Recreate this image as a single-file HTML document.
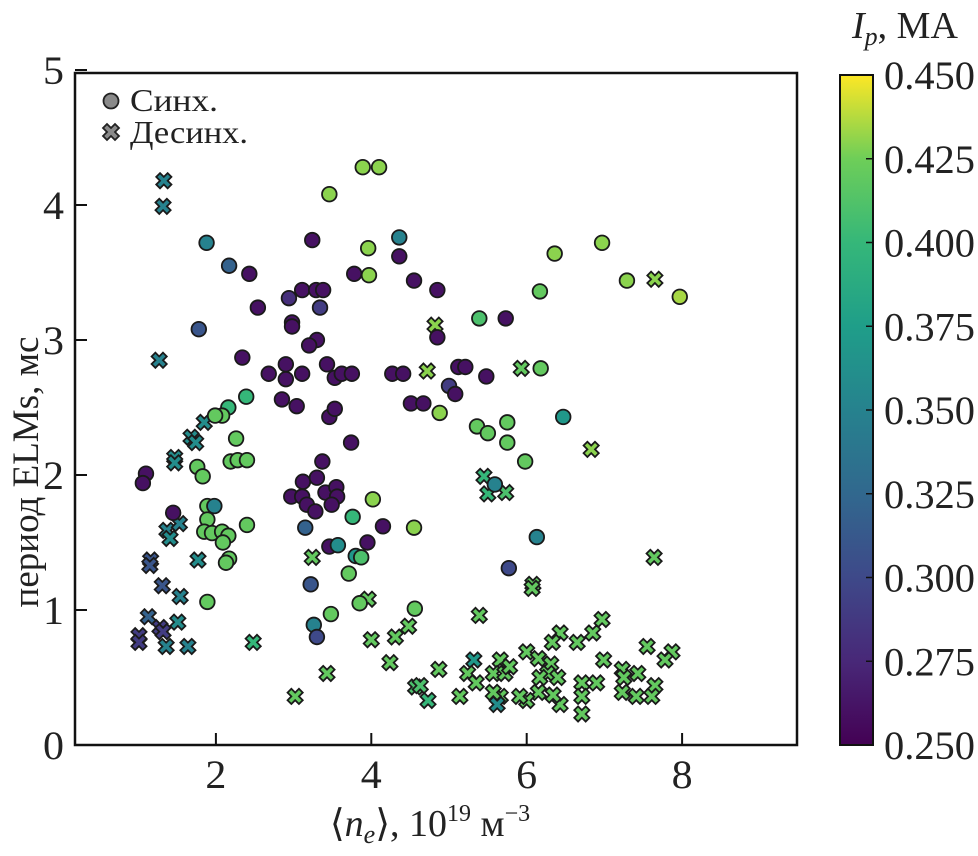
<!DOCTYPE html>
<html><head><meta charset="utf-8"><style>
body{margin:0;background:#fff;}
svg{display:block;font-family:"Liberation Serif",serif;}
</style></head><body>
<svg id="chart" width="978" height="856" viewBox="0 0 978 856" xmlns="http://www.w3.org/2000/svg">
<defs><linearGradient id="vir" x1="0" y1="1" x2="0" y2="0">
<stop offset="0" stop-color="#440154"/><stop offset="0.125" stop-color="#482878"/><stop offset="0.25" stop-color="#3e4989"/><stop offset="0.375" stop-color="#31688e"/><stop offset="0.5" stop-color="#26828e"/><stop offset="0.625" stop-color="#1f9e89"/><stop offset="0.75" stop-color="#35b779"/><stop offset="0.875" stop-color="#6ece58"/><stop offset="1" stop-color="#fde725"/></linearGradient></defs>
<g id="marks"></g>
<rect x="75" y="73" width="722" height="672" fill="none" stroke="#111" stroke-width="2.5"/>
<g id="axes"></g>
<g>
<circle cx="111" cy="101" r="7.5" fill="#8a8a8a" stroke="#222" stroke-width="1.8"/>
<text x="130" y="111" font-size="32" textLength="88" lengthAdjust="spacingAndGlyphs" fill="#222">Синх.</text>
<path d="M103,128 L107,124 L111,128 L115,124 L119,128 L115,132 L119,136 L115,140 L111,136 L107,140 L103,136 L107,132Z" fill="#8a8a8a" stroke="#222" stroke-width="1.8"/>
<text x="130" y="143" font-size="32" textLength="118" lengthAdjust="spacingAndGlyphs" fill="#222">Десинх.</text>
</g>
<text transform="translate(38,472) rotate(-90)" text-anchor="middle" font-size="37" fill="#222">период ELMs, мс</text>
<text x="430" y="836" text-anchor="middle" font-size="38" fill="#222">⟨<tspan font-style="italic">n<tspan font-size="26" dy="7">e</tspan></tspan><tspan dy="-7">⟩, 10</tspan><tspan font-size="24" dy="-15">19</tspan><tspan dy="15"> м</tspan><tspan font-size="24" dy="-15">−3</tspan></text>
<rect x="840" y="75" width="33" height="670" fill="url(#vir)" stroke="#111" stroke-width="2"/>
<text x="852" y="38" font-size="38" fill="#222"><tspan font-style="italic">I</tspan><tspan font-style="italic" font-size="26" dy="7">p</tspan><tspan dy="-7">, МА</tspan></text>
<g id="cbticks"></g>
</svg>
<script>
const syncX=[1.88,2.17,2.43,3.24,3.96,4.36,4.36,3.78,3.97,4.55,4.85,3.89,4.10,3.46,3.11,3.29,3.38,2.94,2.54,3.34,1.78,2.98,2.98,3.30,3.20,4.85,2.34,2.90,2.68,2.90,3.11,3.43,3.53,3.62,3.75,4.27,4.41,2.39,2.85,3.04,3.46,3.53,4.51,4.67,4.88,2.16,2.08,1.99,2.26,3.74,2.19,2.28,2.40,3.37,1.76,1.83,1.10,1.06,3.12,3.30,2.97,3.11,3.17,3.28,3.41,3.55,3.56,3.49,4.02,1.89,1.98,1.45,1.89,2.40,1.85,1.95,2.08,2.16,2.09,3.76,3.15,4.15,4.55,3.46,3.57,3.95,2.17,2.13,3.80,3.87,3.71,3.22,1.89,3.85,4.56,3.48,3.26,3.30,6.97,6.36,7.29,7.97,6.17,5.39,5.73,5.12,5.21,5.48,6.18,5.00,5.08,5.36,5.50,5.75,5.75,6.47,5.98,5.59,6.13,5.77];
const syncY=[3.72,3.55,3.49,3.74,3.68,3.76,3.62,3.49,3.48,3.44,3.37,4.28,4.28,4.08,3.37,3.37,3.37,3.31,3.24,3.24,3.08,3.13,3.10,3.00,2.96,3.02,2.87,2.82,2.75,2.71,2.75,2.82,2.72,2.75,2.75,2.75,2.75,2.58,2.56,2.51,2.43,2.49,2.53,2.53,2.46,2.50,2.44,2.44,2.27,2.24,2.10,2.11,2.11,2.10,2.06,1.99,2.01,1.94,1.95,1.98,1.84,1.84,1.78,1.73,1.87,1.91,1.84,1.78,1.82,1.77,1.77,1.72,1.67,1.63,1.58,1.57,1.58,1.55,1.50,1.69,1.61,1.62,1.61,1.47,1.48,1.50,1.38,1.35,1.40,1.39,1.27,1.19,1.06,1.05,1.01,0.97,0.89,0.80,3.72,3.64,3.44,3.32,3.36,3.16,3.16,2.80,2.80,2.73,2.79,2.66,2.60,2.36,2.31,2.39,2.24,2.43,2.10,1.93,1.54,1.31];
const syncIp=[0.35,0.32,0.26,0.26,0.43,0.35,0.26,0.26,0.43,0.26,0.26,0.43,0.43,0.43,0.26,0.26,0.26,0.28,0.26,0.29,0.31,0.26,0.26,0.26,0.26,0.26,0.26,0.26,0.26,0.26,0.26,0.26,0.26,0.26,0.26,0.26,0.26,0.40,0.26,0.26,0.26,0.26,0.26,0.26,0.43,0.40,0.42,0.42,0.42,0.26,0.42,0.42,0.42,0.26,0.42,0.42,0.26,0.26,0.26,0.26,0.26,0.26,0.26,0.26,0.26,0.26,0.26,0.26,0.43,0.42,0.35,0.26,0.42,0.42,0.42,0.42,0.42,0.42,0.42,0.40,0.32,0.26,0.43,0.26,0.36,0.26,0.42,0.42,0.37,0.41,0.42,0.31,0.42,0.42,0.42,0.42,0.35,0.30,0.43,0.43,0.43,0.435,0.42,0.41,0.26,0.26,0.26,0.26,0.42,0.29,0.26,0.42,0.42,0.42,0.42,0.37,0.42,0.35,0.35,0.30];
const desX=[1.33,1.32,1.27,4.82,4.72,1.85,1.68,1.74,1.47,1.47,1.37,1.53,1.41,1.16,1.15,1.77,3.24,1.31,1.54,3.96,1.13,1.51,1.28,1.32,1.01,1.01,4.48,4.31,4.00,1.36,1.64,2.48,4.24,3.43,3.02,4.57,4.73,6.83,5.45,5.50,5.73,7.64,6.08,6.07,5.39,7.65,5.93,6.97,6.85,6.43,6.33,6.65,6.00,7.55,7.87,7.78,6.99,6.15,6.31,5.32,5.66,4.87,5.24,5.35,5.57,5.72,5.78,6.27,6.17,6.40,6.71,6.90,7.23,7.43,7.25,7.23,7.41,7.65,7.61,6.71,6.71,6.43,6.34,6.15,6.00,5.91,5.66,5.62,5.57,5.14,4.63];
const desY=[4.18,3.99,2.85,3.11,2.77,2.39,2.28,2.24,2.13,2.09,1.59,1.64,1.53,1.37,1.33,1.37,1.39,1.18,1.10,1.08,0.95,0.91,0.87,0.84,0.81,0.76,0.88,0.80,0.78,0.73,0.73,0.76,0.61,0.53,0.36,0.43,0.33,2.19,1.99,1.86,1.87,1.39,1.19,1.16,0.96,3.45,2.79,0.93,0.83,0.83,0.76,0.76,0.69,0.73,0.69,0.63,0.63,0.64,0.60,0.63,0.63,0.56,0.53,0.46,0.53,0.53,0.58,0.53,0.50,0.50,0.46,0.46,0.56,0.53,0.50,0.39,0.36,0.44,0.36,0.36,0.23,0.30,0.37,0.39,0.33,0.36,0.36,0.30,0.39,0.36,0.44];
const desIp=[0.35,0.35,0.35,0.43,0.43,0.36,0.36,0.36,0.36,0.36,0.35,0.35,0.36,0.31,0.31,0.36,0.42,0.31,0.35,0.42,0.32,0.36,0.29,0.29,0.29,0.29,0.42,0.42,0.42,0.35,0.35,0.40,0.42,0.42,0.42,0.41,0.40,0.43,0.40,0.40,0.41,0.42,0.42,0.42,0.42,0.43,0.42,0.42,0.42,0.42,0.42,0.42,0.42,0.42,0.42,0.42,0.42,0.42,0.42,0.37,0.42,0.42,0.42,0.42,0.42,0.42,0.42,0.42,0.42,0.42,0.42,0.42,0.42,0.42,0.42,0.42,0.42,0.42,0.42,0.42,0.42,0.42,0.42,0.42,0.42,0.42,0.42,0.36,0.42,0.42,0.41];
const xTicks=[2,4,6,8];
const yTicks=[0,1,2,3,4,5];
const cbTicks=["0.250","0.275","0.300","0.325","0.350","0.375","0.400","0.425","0.450"];

const NS="http://www.w3.org/2000/svg";
function xs(v){return 60.5+77.7*v;}
function ys(v){return 745-135*v;}
function cbY(v){return 745-(v-0.25)/0.2*670;}
const vstops=[[68,1,84],[72,40,120],[62,73,137],[49,104,142],[38,130,142],[31,158,137],[53,183,121],[110,206,88],[253,231,37]];
function vir(ip){let t=Math.max(0,Math.min(1,(ip-0.25)/0.2))*(vstops.length-1);let i=Math.min(Math.floor(t),vstops.length-2),f=t-i;const a=vstops[i],b=vstops[i+1];return 'rgb('+a.map((c,k)=>Math.round(c+(b[k]-c)*f)).join(',')+')';}
function mk(tag,attrs,parent){const e=document.createElementNS(NS,tag);for(const k in attrs)e.setAttribute(k,attrs[k]);parent.appendChild(e);return e;}
const marks=document.getElementById('marks');
for(let i=0;i<desX.length;i++){
 const cx=xs(desX[i]),cy=ys(desY[i]),s=3.8;
 const d=`M${cx-2*s},${cy-s} L${cx-s},${cy-2*s} L${cx},${cy-s} L${cx+s},${cy-2*s} L${cx+2*s},${cy-s} L${cx+s},${cy} L${cx+2*s},${cy+s} L${cx+s},${cy+2*s} L${cx},${cy+s} L${cx-s},${cy+2*s} L${cx-2*s},${cy+s} L${cx-s},${cy}Z`;
 const p=mk('path',{d:d,fill:vir(desIp[i]),stroke:'#1a1a1a','stroke-width':1.8},marks);
 
 
}
for(let i=0;i<syncX.length;i++){
 const c=mk('circle',{cx:xs(syncX[i]),cy:ys(syncY[i]),r:7.3,fill:vir(syncIp[i]),stroke:'#1a1a1a','stroke-width':1.8},marks);
 
 
}
const axes=document.getElementById('axes');
xTicks.forEach(v=>{
 const l=mk('line',{x1:xs(v),x2:xs(v),y1:745,y2:733,stroke:'#111','stroke-width':2},axes);
 
 
 const t=mk('text',{x:xs(v),y:788,'text-anchor':'middle','font-size':40,textLength:21,lengthAdjust:'spacingAndGlyphs',fill:'#222'},axes);
 t.textContent=v;
 
 
});
yTicks.forEach(v=>{
 const l=mk('line',{x1:75,x2:87,y1:ys(v),y2:ys(v),stroke:'#111','stroke-width':2},axes);
 
 
 const t=mk('text',{x:64,y:ys(v)+14,'text-anchor':'end','font-size':40,textLength:21,lengthAdjust:'spacingAndGlyphs',fill:'#222'},axes);
 t.textContent=v;
 
 
});
const cbt=document.getElementById('cbticks');
cbTicks.forEach(s=>{
 const v=parseFloat(s);
 const l=mk('line',{x1:866,x2:873,y1:cbY(v),y2:cbY(v),stroke:'#111','stroke-width':1.5},cbt);
 
 
 const t=mk('text',{x:884,y:cbY(v)+14,'font-size':40,textLength:91,lengthAdjust:'spacingAndGlyphs',fill:'#222'},cbt);
 t.textContent=s;
 
 
});
</script>
</body></html>
